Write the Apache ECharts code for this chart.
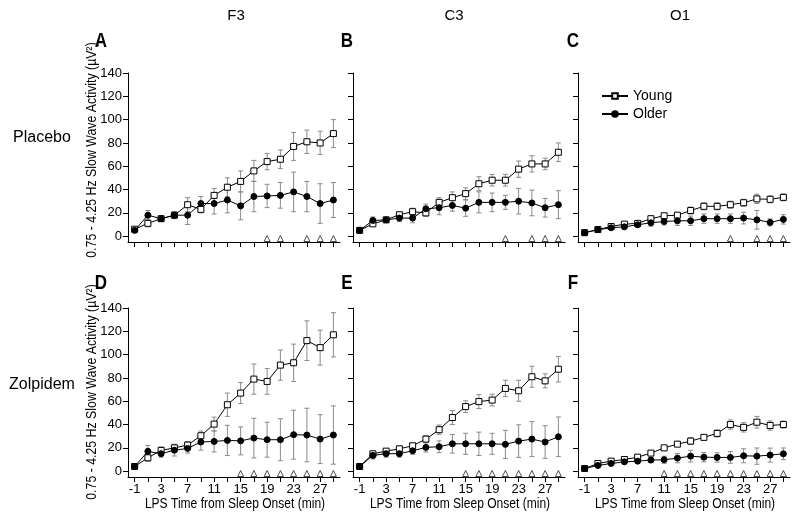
<!DOCTYPE html>
<html><head><meta charset="utf-8">
<script src="https://cdn.jsdelivr.net/npm/echarts@6/dist/echarts.min.js"></script>
<style>html,body{margin:0;padding:0;background:#fff}#c{width:800px;height:519px}</style>
</head><body><div id="c"></div>
<script>
const times = [-1,1,3,5,7,9,11,13,15,17,19,21,23,25,27,29];
const xTickValues = [-1,1,3,5,7,9,11,13,15,17,19,21,23,25,27,29];
const xLabelValues = [-1,3,7,11,15,19,23,27];
const yTickValues = [0,20,40,60,80,100,120,140];
const columnTitles = ['F3','C3','O1'];
const rowTitles = ['Placebo','Zolpidem'];
const panelLetters = ['A','B','C','D','E','F'];
const yAxisTitle = '0.75 - 4.25 Hz Slow Wave Activity (µV²)';
const xAxisTitle = 'LPS Time from Sleep Onset (min)';

// Panel A: Placebo F3
const youngA = [6, 11, 15, 18, 27, 23, 35, 42, 47, 56, 64, 66, 77, 81, 80, 88];
const youngAErr = [2, 3, 2, 2, 6, 3, 6, 8, 9, 9, 7, 8, 12, 10, 10, 12];
const olderA = [5, 18, 15, 18, 18, 28, 28, 31, 26, 34, 34.5, 35, 38, 34, 28, 31];
const olderAErr = [2, 4, 2, 3, 8, 6, 9, 11, 12, 13, 10, 11, 17, 13, 17, 15];
const sigA = [19, 21, 25, 27, 29];
// Panel B: Placebo C3
const youngB = [5, 10.6, 14, 18.4, 21, 20, 29, 33, 36.5, 45, 48, 48, 57.5, 62, 62, 72];
const youngBErr = [1, 2, 1, 2, 3, 3, 4, 5, 5, 6, 5, 5, 7, 7, 5, 8];
const olderB = [5, 13.5, 14, 15.5, 15.5, 23.5, 24.4, 26.4, 24, 29, 29, 29, 30, 28.5, 24.4, 27];
const olderBErr = [1, 3, 2, 3, 4, 4, 6, 5, 7, 9, 8, 6, 11, 11, 8, 12];
const sigB = [21, 25, 27, 29];
// Panel C: Placebo O1
const youngC = [3, 5.7, 8.3, 10.3, 11, 15, 17.5, 18, 22, 25.6, 25.6, 27, 28.7, 32, 31.6, 33.3];
const youngCErr = [1, 1, 1, 1, 1, 2, 2, 2, 3, 3, 3, 3, 3, 4, 3, 3];
const olderC = [3, 5.5, 7.2, 8, 9.8, 11.5, 12.6, 13.2, 13.2, 15, 15, 15, 15.5, 14, 11.8, 14.4];
const olderCErr = [1, 1, 1, 1, 2, 3, 3, 4, 4, 4, 4, 4, 5, 8, 3, 4];
const sigC = [21, 25, 27, 29];
// Panel D: Zolpidem F3
const youngD = [4, 11.5, 17.8, 20, 22.4, 30.4, 40.4, 57, 67, 79, 77, 91, 93, 112, 106, 117];
const youngDErr = [1, 3, 3, 3, 3, 4, 6, 10, 9, 13, 11, 13, 16, 17, 15, 19];
const olderD = [4, 17, 15, 18, 19.5, 25, 25.5, 26.4, 26, 28.4, 27, 27, 31.3, 31, 27.5, 31];
const olderDErr = [1, 5, 3, 5, 4, 7, 9, 13, 12, 17, 15, 18, 21, 23, 21, 25];
const sigD = [15, 17, 19, 21, 23, 25, 27, 29];
// Panel E: Zolpidem C3
const youngE = [4, 14.9, 17.2, 19.2, 21.8, 27.5, 35.6, 46, 55.4, 59.7, 61, 71, 69, 81, 77.5, 87.5];
const youngEErr = [1, 2, 2, 2, 2, 3, 4, 6, 5, 6, 5, 7, 9, 9, 6, 11];
const olderE = [4, 13.5, 15, 15, 17.5, 20.4, 21, 23.5, 23.5, 23.5, 23.5, 23, 25.8, 27.5, 25, 29.5];
const olderEErr = [1, 3, 3, 3, 3, 4, 5, 8, 9, 10, 9, 12, 14, 15, 14, 17];
const sigE = [15, 17, 19, 21, 23, 25, 27, 29];
// Panel F: Zolpidem O1
const youngF = [2.3, 6.6, 8.6, 10, 12, 15.5, 20, 23.2, 25.8, 29, 32.4, 40, 37.6, 42, 39.2, 40];
const youngFErr = [1, 1, 1, 1, 1, 1, 2, 2, 3, 2, 3, 4, 4, 5, 4, 3];
const olderF = [2.3, 4.9, 6.6, 8, 8.6, 9.5, 9.8, 11.2, 12.9, 12, 11.8, 11.8, 13.2, 12.9, 13.8, 14.9];
const olderFErr = [1, 1, 1, 1, 1, 2, 3, 4, 5, 4, 4, 5, 6, 7, 6, 5];
const sigF = [11, 13, 15, 17, 19, 21, 23, 25, 27, 29];

const panels = [
  {young: youngA, yErr: youngAErr, older: olderA, oErr: olderAErr, sig: sigA},
  {young: youngB, yErr: youngBErr, older: olderB, oErr: olderBErr, sig: sigB},
  {young: youngC, yErr: youngCErr, older: olderC, oErr: olderCErr, sig: sigC},
  {young: youngD, yErr: youngDErr, older: olderD, oErr: olderDErr, sig: sigD},
  {young: youngE, yErr: youngEErr, older: olderE, oErr: olderEErr, sig: sigE},
  {young: youngF, yErr: youngFErr, older: olderF, oErr: olderFErr, sig: sigF}
];

const FONT = '"Liberation Sans", Arial, sans-serif';
const lefts = [128, 353, 578];
const tops = [73, 308];
const W = 212, H = 169;

const grids = [], xAxes = [], yAxes = [], series = [];

function renderErr(params, api) {
  const x = api.value(0), lo = api.value(1), hi = api.value(2);
  const p1 = api.coord([x, lo]), p2 = api.coord([x, hi]);
  const c = 2.5;
  const st = {stroke: '#8a8a8a', lineWidth: 1};
  return {type: 'group', children: [
    {type: 'line', shape: {x1: p1[0], y1: p1[1], x2: p2[0], y2: p2[1]}, style: st},
    {type: 'line', shape: {x1: p1[0]-c, y1: p1[1], x2: p1[0]+c, y2: p1[1]}, style: st},
    {type: 'line', shape: {x1: p2[0]-c, y1: p2[1], x2: p2[0]+c, y2: p2[1]}, style: st}
  ]};
}

panels.forEach((p, i) => {
  const row = Math.floor(i / 3), col = i % 3;
  const bottomRow = row === 1, firstCol = col === 0;
  grids.push({left: lefts[col], top: tops[row], width: W, height: H, containLabel: false});
  xAxes.push({
    type: 'value', gridIndex: i, min: -2, max: 30,
    axisLine: {show: true, onZero: false, lineStyle: {color: '#000', width: 1}},
    axisTick: {show: true, customValues: xTickValues, length: 5, lineStyle: {color: '#000'}},
    axisLabel: {show: bottomRow, customValues: xLabelValues, color: '#000', fontSize: 13, fontFamily: FONT, margin: 6},
    splitLine: {show: false}
  });
  yAxes.push({
    type: 'value', gridIndex: i, min: -5, max: 140,
    axisLine: {show: true, onZero: false, lineStyle: {color: '#000', width: 1}},
    axisTick: {show: true, customValues: yTickValues, length: 5, lineStyle: {color: '#000'}},
    axisLabel: {show: firstCol, customValues: yTickValues, color: '#000', fontSize: 13, fontFamily: FONT, margin: 6},
    splitLine: {show: false}
  });
  const errData = (v, e) => times.map((t, k) => [t, v[k] - e[k], v[k] + e[k]]);
  series.push({type: 'custom', xAxisIndex: i, yAxisIndex: i, renderItem: renderErr,
    data: errData(p.young, p.yErr), encode: {x: 0, y: [1, 2]}, z: 1, silent: true});
  series.push({type: 'custom', xAxisIndex: i, yAxisIndex: i, renderItem: renderErr,
    data: errData(p.older, p.oErr), encode: {x: 0, y: [1, 2]}, z: 1, silent: true});
  series.push({name: 'Young', type: 'line', xAxisIndex: i, yAxisIndex: i,
    data: times.map((t, k) => [t, p.young[k]]),
    symbol: 'rect', symbolSize: 6, showAllSymbol: true,
    lineStyle: {color: '#000', width: 1},
    itemStyle: {color: '#fff', borderColor: '#000', borderWidth: 1}, z: 3, animation: false});
  series.push({name: 'Older', type: 'line', xAxisIndex: i, yAxisIndex: i,
    data: times.map((t, k) => [t, p.older[k]]),
    symbol: 'circle', symbolSize: 6, showAllSymbol: true,
    lineStyle: {color: '#000', width: 1},
    itemStyle: {color: '#000', borderColor: '#000', borderWidth: 1}, z: 3, animation: false});
  series.push({type: 'scatter', xAxisIndex: i, yAxisIndex: i,
    data: p.sig.map(t => [t, -2]),
    symbol: 'triangle', symbolSize: [6, 6],
    itemStyle: {color: '#fff', borderColor: '#222', borderWidth: 1}, z: 4, animation: false});
});

const graphics = [];
const colCenters = [236, 454, 680];
columnTitles.forEach((t, k) => graphics.push({type: 'text', x: colCenters[k], y: 16,
  style: {text: t, fill: '#000', font: '15px ' + FONT, textAlign: 'center', textVerticalAlign: 'middle'}}));
const letterX = [101, 347, 573], letterY = [41, 283];
panelLetters.forEach((t, k) => graphics.push({type: 'text', x: letterX[k % 3], y: letterY[Math.floor(k / 3)],
  scaleX: 0.85,
  style: {text: t, fill: '#000', font: 'bold 20px ' + FONT, textAlign: 'center', textVerticalAlign: 'middle'}}));
const rowY = [138, 385];
rowTitles.forEach((t, k) => graphics.push({type: 'text', x: 42, y: rowY[k],
  style: {text: t, fill: '#000', font: '16px ' + FONT, textAlign: 'center', textVerticalAlign: 'middle'}}));
[150, 392].forEach(cy => graphics.push({type: 'text', x: 92, y: cy, rotation: Math.PI / 2, scaleX: 0.88,
  style: {text: yAxisTitle, fill: '#000', font: '14px ' + FONT, textAlign: 'center', textVerticalAlign: 'middle'}}));
lefts.forEach(l => graphics.push({type: 'text', x: l + 107, y: 504, scaleX: 0.86,
  style: {text: xAxisTitle, fill: '#000', font: '14px ' + FONT, textAlign: 'center', textVerticalAlign: 'middle'}}));

const chart = echarts.init(document.getElementById('c'), null, {renderer: 'canvas'});
chart.setOption({
  animation: false,
  backgroundColor: '#fff',
  grid: grids, xAxis: xAxes, yAxis: yAxes, series: series,
  legend: {data: ['Young', 'Older'], left: 596, top: 84, orient: 'vertical',
    itemWidth: 26, itemHeight: 7, itemGap: 4,
    textStyle: {color: '#000', fontSize: 14, fontFamily: FONT}},
  graphic: graphics
});
</script></body></html>
